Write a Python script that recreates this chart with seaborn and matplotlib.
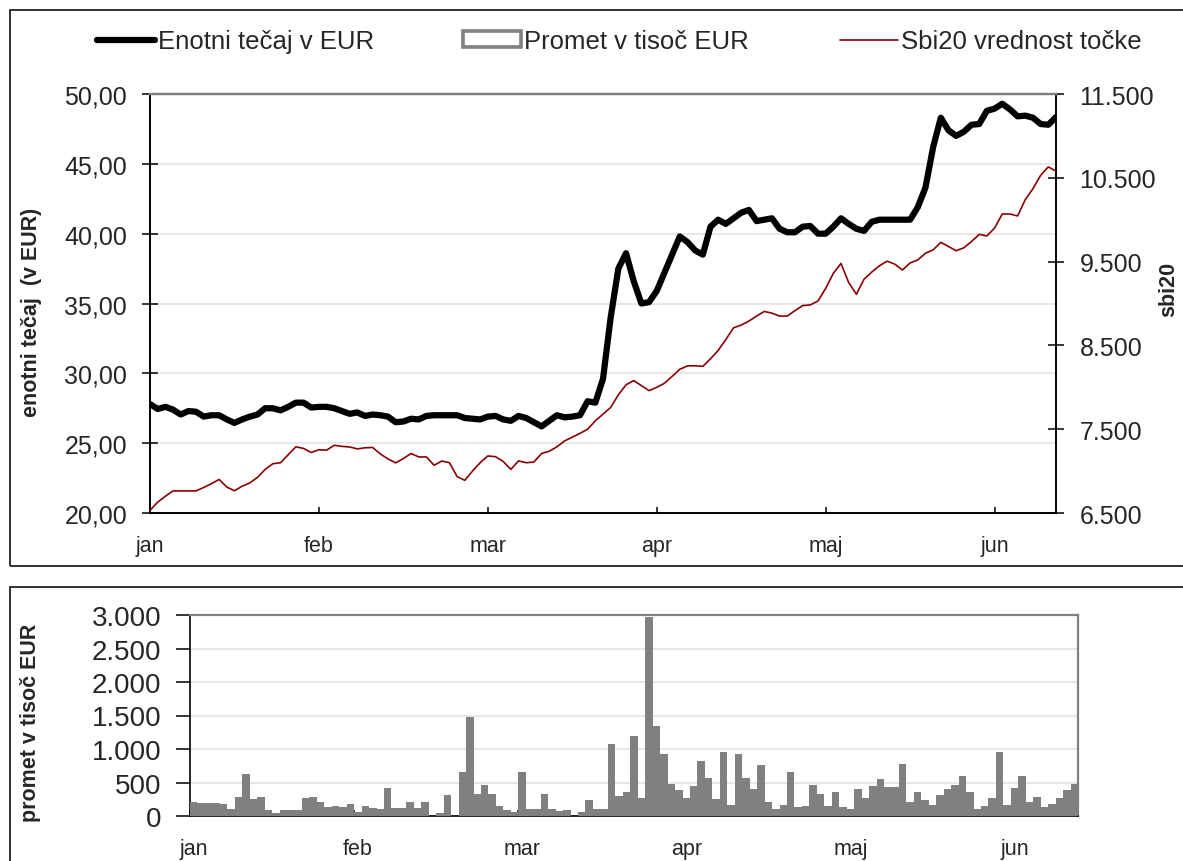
import numpy as np
import pandas as pd
import matplotlib
matplotlib.use("Agg")
import matplotlib.pyplot as plt
import seaborn as sns
from matplotlib.lines import Line2D
from matplotlib.patches import Patch, Rectangle

# ---------------- data ----------------
month_labels = ["jan", "feb", "mar", "apr", "maj", "jun"]
trading_days_per_month = [22, 22, 22, 22, 22, 9]

enotni_tecaj = [
    27.8, 27.45, 27.6, 27.4, 27.05, 27.3, 27.25, 26.9, 27.0, 27.0,
    26.7, 26.45, 26.7, 26.9, 27.05, 27.5, 27.5, 27.35, 27.6, 27.9,
    27.9, 27.55, 27.6, 27.6, 27.5, 27.3, 27.1, 27.2, 26.95, 27.05,
    27.0, 26.9, 26.5, 26.55, 26.75, 26.7, 26.95, 27.0, 27.0, 27.0,
    27.0, 26.8, 26.75, 26.7, 26.9, 26.95, 26.7, 26.6, 26.95, 26.8,
    26.5, 26.2, 26.6, 27.0, 26.85, 26.9, 27.0, 28.0, 27.9, 29.6,
    34.0, 37.5, 38.6, 36.6, 35.0, 35.1, 35.9, 37.2, 38.5, 39.8,
    39.4, 38.8, 38.5, 40.5, 41.0, 40.7, 41.1, 41.5, 41.7, 40.9,
    41.0, 41.1, 40.35, 40.1, 40.1, 40.5, 40.55, 40.0, 40.0, 40.5,
    41.1, 40.7, 40.35, 40.2, 40.85, 41.0, 41.0, 41.0, 41.0, 41.0,
    41.9, 43.3, 46.2, 48.3, 47.4, 47.0, 47.3, 47.8, 47.85, 48.8,
    48.95, 49.3, 48.9, 48.4, 48.45, 48.3, 47.85, 47.8, 48.35,
]

sbi20 = [
    6530, 6630, 6700, 6764, 6764, 6764, 6764, 6805, 6850, 6900,
    6810, 6765, 6820, 6859, 6925, 7020, 7088, 7100, 7195, 7290,
    7270, 7222, 7255, 7250, 7308, 7295, 7288, 7265, 7278, 7282,
    7205, 7145, 7098, 7150, 7210, 7169, 7169, 7070, 7120, 7100,
    6935, 6890, 7000, 7100, 7181, 7172, 7115, 7020, 7122, 7100,
    7108, 7210, 7237, 7290, 7360, 7405, 7450, 7500, 7600, 7680,
    7760, 7910, 8030, 8080, 8020, 7960, 8000, 8048, 8130, 8215,
    8255, 8257, 8250, 8340, 8440, 8570, 8710, 8742, 8790, 8850,
    8905, 8885, 8850, 8850, 8915, 8975, 8983, 9030, 9180, 9360,
    9478, 9250, 9110, 9290, 9375, 9450, 9505, 9470, 9400, 9484,
    9520, 9600, 9640, 9730, 9680, 9630, 9665, 9740, 9825, 9806,
    9900, 10068, 10068, 10045, 10240, 10370, 10530, 10630, 10580,
]

promet = [
    215, 190, 190, 190, 185, 100, 290, 630, 250, 290,
    90, 50, 90, 90, 90, 265, 290, 215, 130, 150,
    130, 175, 55, 150, 125, 100, 415, 125, 125, 205,
    115, 205, 0, 50, 320, 0, 660, 1480, 325, 465,
    323, 155, 90, 65, 650, 100, 100, 323, 100, 75,
    90, 0, 65, 240, 100, 100, 1070, 300, 360, 1190,
    275, 2970, 1340, 925, 475, 390, 275, 450, 820, 560,
    250, 950, 165, 920, 560, 400, 760, 215, 100, 165,
    650, 130, 150, 470, 325, 155, 365, 130, 105, 410,
    275, 450, 550, 430, 430, 770, 215, 355, 240, 165,
    315, 410, 470, 595, 365, 100, 150, 265, 950, 165,
    420, 595, 215, 290, 130, 180, 265, 390, 475,
]

left_ticks = [20, 25, 30, 35, 40, 45, 50]
left_tick_labels = ["20,00", "25,00", "30,00", "35,00", "40,00", "45,00", "50,00"]
right_ticks = [6500, 7500, 8500, 9500, 10500, 11500]
right_tick_labels = ["6.500", "7.500", "8.500", "9.500", "10.500", "11.500"]
promet_ticks = [0, 500, 1000, 1500, 2000, 2500, 3000]
promet_tick_labels = ["0", "500", "1.000", "1.500", "2.000", "2.500", "3.000"]

legend_labels = ["Enotni tečaj v EUR", "Promet v tisoč EUR", "Sbi20 vrednost točke"]
left_label = "enotni tečaj  (v EUR)"
right_label = "sbi20"
bottom_label = "promet v tisoč EUR"

# ---------------- style ----------------
sns.set_theme(style="white")
plt.rcParams["font.family"] = ["Liberation Sans", "DejaVu Sans"]

BLACK = "#000000"
RED = "#8B0000"
BAR = "#808080"
GRID = "#e3e3e3"
FRAME = "#808080"

day = np.arange(len(enotni_tecaj))
months = np.repeat(month_labels, trading_days_per_month)
df = pd.DataFrame({"day": day, "month": months, "tecaj": enotni_tecaj,
                   "sbi20": sbi20, "promet": promet})
month_start = df.groupby("month", sort=False)["day"].min()

W, H = 1183, 862
fig = plt.figure(figsize=(W / 100, H / 100), dpi=100)
fig.patch.set_facecolor("white")


def fr(x0, y0, x1, y1):
    return [x0 / W, 1 - y1 / H, (x1 - x0) / W, (y1 - y0) / H]


# panel frames
fig.add_artist(Rectangle((10 / W, 1 - 567 / H), 1.2, (567 - 11) / H,
                         transform=fig.transFigure, fill=False,
                         edgecolor="#222222", linewidth=1.3, zorder=0))
fig.add_artist(Rectangle((10 / W, -0.2), 1.2, 0.2 + (862 - 588) / H,
                         transform=fig.transFigure, fill=False,
                         edgecolor="#222222", linewidth=1.3, zorder=0))

# ---------------- top chart ----------------
ax = fig.add_axes(fr(150, 95, 1056, 514))
axr = ax.twinx()

sns.lineplot(data=df, x="day", y="tecaj", ax=ax, color=BLACK, linewidth=4.5,
             solid_joinstyle="round", solid_capstyle="round", zorder=3)
sns.lineplot(data=df, x="day", y="sbi20", ax=axr, color=RED, linewidth=1.2,
             zorder=3)

ax.set_xlim(0, len(day) - 1)
ax.set_ylim(20, 50)
axr.set_ylim(6500, 11500)

ax.set_yticks(left_ticks)
ax.set_yticklabels(left_tick_labels)
axr.set_yticks(right_ticks)
axr.set_yticklabels(right_tick_labels)
ax.set_xticks(month_start.values)
ax.set_xticklabels(month_start.index)

ax.yaxis.grid(True, color=GRID, linewidth=1.2)
ax.xaxis.grid(False)
axr.grid(False)
ax.set_axisbelow(True)

for a in (ax, axr):
    for s in a.spines.values():
        s.set_linewidth(1.2)
        s.set_color(BLACK)
ax.spines["top"].set_color(FRAME)
axr.spines["top"].set_color(FRAME)
ax.spines["top"].set_linewidth(1.6)
axr.spines["top"].set_linewidth(1.6)

ax.tick_params(axis="y", direction="inout", length=11, width=1.1,
               color=BLACK, labelsize=18, pad=11, left=True)
axr.tick_params(axis="y", direction="inout", length=11, width=1.1,
                color=BLACK, labelsize=18, pad=11.5, right=True)
ax.tick_params(axis="x", direction="in", length=4.5, width=1.1,
               color=BLACK, labelsize=15.5, pad=16, bottom=True)

ax.set_xlabel("")
ax.set_ylabel(left_label, fontsize=15.5, fontweight="bold")
ax.yaxis.set_label_coords(-0.119, 0.482)
axr.set_ylabel(right_label, fontsize=15.5, fontweight="bold")
axr.yaxis.set_label_coords(1.113, 0.535)

# legend (three entries placed across the top)
handles = [
    Line2D([0], [0], color=BLACK, linewidth=4.5, solid_capstyle="round"),
    Patch(facecolor="white", edgecolor=BAR, linewidth=2.6),
    Line2D([0], [0], color=RED, linewidth=1.2),
]
legend_x = [97, 463, 840]
for h, lab, lx in zip(handles, legend_labels, legend_x):
    fig.legend([h], [lab], loc="center left",
               bbox_to_anchor=(lx / W, 1 - 42 / H),
               bbox_transform=fig.transFigure, frameon=False,
               borderpad=0, borderaxespad=0, handlelength=2.25,
               handleheight=0.55, handletextpad=0.12, fontsize=18.5)

# ---------------- bottom chart ----------------
ax2 = fig.add_axes(fr(190, 616, 1078, 817))
sns.barplot(data=df, x="day", y="promet", ax=ax2, color=BAR, saturation=1,
            width=1.0, native_scale=True, linewidth=0, zorder=3)
ax2.set_xlim(-0.5, len(day) - 0.5)
ax2.set_ylim(0, 3000)
ax2.set_yticks(promet_ticks)
ax2.set_yticklabels(promet_tick_labels)
ax2.set_xticks(month_start.values - 0.5)
ax2.set_xticklabels([""] * len(month_start))
ax2.set_xticks(month_start.values, minor=True)
ax2.set_xticklabels(month_start.index, minor=True)

ax2.yaxis.grid(True, color=GRID, linewidth=1.2)
ax2.xaxis.grid(False)
ax2.set_axisbelow(True)
for s in ax2.spines.values():
    s.set_linewidth(1.2)
    s.set_color(BLACK)
ax2.spines["top"].set_color(FRAME)
ax2.spines["right"].set_color(FRAME)
ax2.spines["top"].set_linewidth(1.6)
ax2.spines["right"].set_linewidth(1.6)

ax2.tick_params(axis="y", direction="out", length=10, width=1.1,
                color=BLACK, labelsize=20, pad=10.5, left=True)
ax2.tick_params(axis="x", which="major", direction="in", length=4.5,
                width=1.1, color=BLACK, bottom=True)
ax2.tick_params(axis="x", which="minor", length=0, labelsize=15.5, pad=16)

ax2.set_xlabel("")
ax2.set_ylabel(bottom_label, fontsize=15.5, fontweight="bold")
ax2.yaxis.set_label_coords(-0.168, 0.468)

fig.savefig("out.png", dpi=100)
